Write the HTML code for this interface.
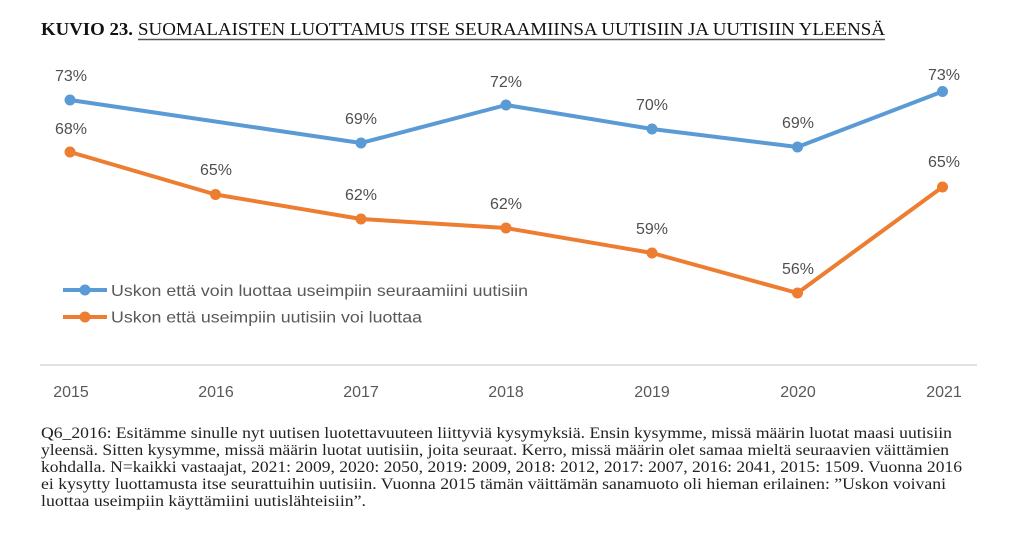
<!DOCTYPE html>
<html><head><meta charset="utf-8"><style>
html,body{margin:0;padding:0;background:#fff;}
svg{display:block;}
</style></head><body>
<svg width="1022" height="536" viewBox="0 0 1022 536" xmlns="http://www.w3.org/2000/svg">
<rect width="1022" height="536" fill="#fff"/>
<!-- Title -->
<text x="41" y="35" font-family="Liberation Serif, serif" font-size="18" font-weight="bold" fill="#111" textLength="92" lengthAdjust="spacingAndGlyphs">KUVIO 23.</text>
<text x="138" y="35" font-family="Liberation Serif, serif" font-size="18" fill="#111" textLength="747" lengthAdjust="spacingAndGlyphs">SUOMALAISTEN LUOTTAMUS ITSE SEURAAMIINSA UUTISIIN JA UUTISIIN YLEENSÄ</text>
<line x1="138" y1="39.5" x2="885" y2="39.5" stroke="#555" stroke-width="1.6"/>

<!-- Axis -->
<line x1="40" y1="365" x2="977" y2="365" stroke="#d9d9d9" stroke-width="1.5"/>
<g font-family="Liberation Sans, sans-serif" font-size="16" fill="#595959" text-anchor="middle">
<text x="71" y="397">2015</text>
<text x="216" y="397">2016</text>
<text x="361" y="397">2017</text>
<text x="506" y="397">2018</text>
<text x="652" y="397">2019</text>
<text x="798" y="397">2020</text>
<text x="944" y="397">2021</text>
</g>

<!-- Blue series -->
<polyline points="70,100 361,143 506,105 652,129 797.5,147 942.5,91.5" fill="none" stroke="#5B9BD5" stroke-width="4" stroke-linejoin="round"/>
<g fill="#5B9BD5">
<circle cx="70" cy="100" r="5.5"/><circle cx="361" cy="143" r="5.5"/><circle cx="506" cy="105" r="5.5"/>
<circle cx="652" cy="129" r="5.5"/><circle cx="797.5" cy="147" r="5.5"/><circle cx="942.5" cy="91.5" r="5.5"/>
</g>
<!-- Orange series -->
<polyline points="70,152 215.5,194.5 361,219 506,228 652,253 797.5,293 942.5,187" fill="none" stroke="#ED7D31" stroke-width="4" stroke-linejoin="round"/>
<g fill="#ED7D31">
<circle cx="70" cy="152" r="5.5"/><circle cx="215.5" cy="194.5" r="5.5"/><circle cx="361" cy="219" r="5.5"/>
<circle cx="506" cy="228" r="5.5"/><circle cx="652" cy="253" r="5.5"/><circle cx="797.5" cy="293" r="5.5"/><circle cx="942.5" cy="187" r="5.5"/>
</g>

<!-- Data labels -->
<g font-family="Liberation Sans, sans-serif" font-size="16" fill="#505050" text-anchor="middle">
<text x="71" y="81">73%</text>
<text x="361" y="124">69%</text>
<text x="506" y="87">72%</text>
<text x="652" y="110">70%</text>
<text x="798" y="128">69%</text>
<text x="944" y="80">73%</text>
<text x="71" y="134">68%</text>
<text x="216" y="175">65%</text>
<text x="361" y="200">62%</text>
<text x="506" y="209">62%</text>
<text x="652" y="234">59%</text>
<text x="798" y="274">56%</text>
<text x="944" y="167">65%</text>
</g>

<!-- Legend -->
<line x1="63" y1="290" x2="107" y2="290" stroke="#5B9BD5" stroke-width="4"/>
<circle cx="85" cy="290" r="5.5" fill="#5B9BD5"/>
<text x="111" y="296" font-family="Liberation Sans, sans-serif" font-size="16" fill="#595959" textLength="417" lengthAdjust="spacingAndGlyphs">Uskon että voin luottaa useimpiin seuraamiini uutisiin</text>
<line x1="63" y1="317" x2="107" y2="317" stroke="#ED7D31" stroke-width="4"/>
<circle cx="85" cy="317" r="5.5" fill="#ED7D31"/>
<text x="111" y="322.5" font-family="Liberation Sans, sans-serif" font-size="16" fill="#595959" textLength="311" lengthAdjust="spacingAndGlyphs">Uskon että useimpiin uutisiin voi luottaa</text>

<!-- Footnote -->
<g font-family="Liberation Serif, serif" font-size="16" fill="#222">
<text x="41" y="438" textLength="911" lengthAdjust="spacingAndGlyphs">Q6_2016: Esitämme sinulle nyt uutisen luotettavuuteen liittyviä kysymyksiä. Ensin kysymme, missä määrin luotat maasi uutisiin</text>
<text x="41" y="455" textLength="908" lengthAdjust="spacingAndGlyphs">yleensä. Sitten kysymme, missä määrin luotat uutisiin, joita seuraat. Kerro, missä määrin olet samaa mieltä seuraavien väittämien</text>
<text x="41" y="472" textLength="921" lengthAdjust="spacingAndGlyphs">kohdalla. N=kaikki vastaajat, 2021: 2009, 2020: 2050, 2019: 2009, 2018: 2012, 2017: 2007, 2016: 2041, 2015: 1509. Vuonna 2016</text>
<text x="41" y="489" textLength="905" lengthAdjust="spacingAndGlyphs">ei kysytty luottamusta itse seurattuihin uutisiin. Vuonna 2015 tämän väittämän sanamuoto oli hieman erilainen: ”Uskon voivani</text>
<text x="41" y="506" textLength="325" lengthAdjust="spacingAndGlyphs">luottaa useimpiin käyttämiini uutislähteisiin”.</text>
</g>
</svg>
</body></html>
